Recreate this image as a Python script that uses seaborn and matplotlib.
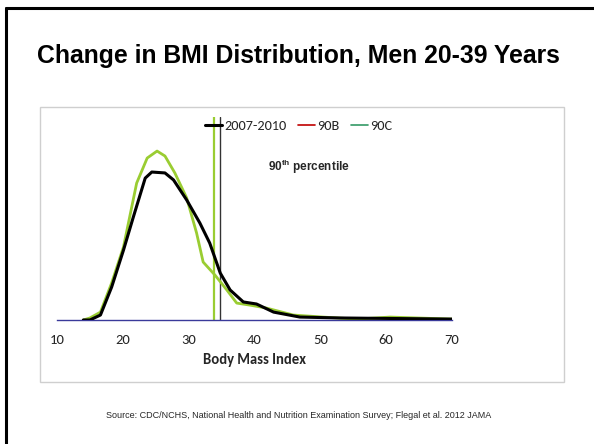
import numpy as np
import pandas as pd
import matplotlib
matplotlib.use("Agg")
import matplotlib.pyplot as plt
import seaborn as sns
from matplotlib import font_manager
from matplotlib.lines import Line2D
from matplotlib.patches import Rectangle

# BMI density curves (density per BMI unit)
bmi_black = [14.0, 15.0, 16.6, 18.3, 20.1, 21.6, 23.4, 24.4, 26.4, 27.7, 29.7,
             31.7, 33.2, 34.8, 36.3, 38.3, 40.3, 42.9, 46.9, 53.0, 70.0]
dens_black = [0.0, 0.0, 0.0022, 0.0146, 0.0310, 0.0457, 0.0629, 0.0656, 0.0652,
              0.0621, 0.0532, 0.0430, 0.0341, 0.0208, 0.0133, 0.0080, 0.0071,
              0.0035, 0.0013, 0.0009, 0.0004]
bmi_green = [14.0, 15.0, 16.6, 18.3, 20.1, 22.1, 23.7, 25.2, 26.4, 27.9, 29.7,
             31.2, 32.2, 34.0, 35.8, 37.3, 39.3, 41.8, 45.9, 50.4, 55.5, 60.6, 70.0]
dens_green = [0.0, 0.0009, 0.0035, 0.0164, 0.0324, 0.0607, 0.0718, 0.0749, 0.0727,
              0.0652, 0.0541, 0.0386, 0.0257, 0.0199, 0.0133, 0.0075, 0.0066,
              0.0053, 0.0022, 0.0013, 0.0004, 0.0013, 0.0004]

# 90th percentile markers
p90_green = 33.9
p90_black = 34.8

legend_labels = ["2007-2010", "90B", "90C"]
xticks = [10, 20, 30, 40, 50, 60, 70]

GREEN = "#9ACD32"


def pick_font(names):
    for n in names:
        try:
            font_manager.findfont(n, fallback_to_default=False)
            return n
        except Exception:
            pass
    return "DejaVu Sans"


narrow = pick_font(["Liberation Sans Narrow", "Liberation Sans"])
arial = pick_font(["Liberation Sans", "DejaVu Sans"])
calibri = pick_font(["Carlito", "Lato", "Open Sans"])

sns.set_style("white")
plt.rcParams["font.family"] = [calibri, "DejaVu Sans"]
plt.rcParams["mathtext.fontset"] = "custom"
plt.rcParams["mathtext.rm"] = narrow
plt.rcParams["mathtext.bf"] = narrow + ":bold"

fig = plt.figure(figsize=(5.94, 4.44), dpi=100)

# slide frame (top + left edge) and chart box
fig.add_artist(Line2D([6 / 594, 1], [1 - 8 / 444, 1 - 8 / 444], color="black", lw=2.2,
                      transform=fig.transFigure))
fig.add_artist(Line2D([6 / 594, 6 / 594], [0, 1 - 8 / 444], color="black", lw=2.2,
                      transform=fig.transFigure))
fig.add_artist(Rectangle((40 / 594, 1 - 382 / 444), (564 - 40) / 594, (382 - 107) / 444,
                         transform=fig.transFigure, fill=False, edgecolor="#cfcfcf", lw=1))

fig.text(0.502, 1 - 56 / 444, "Change in BMI Distribution, Men 20-39 Years",
         ha="center", va="center", fontsize=17.8, fontweight="bold", family=narrow,
         color="black")
fig.text(0.503, 1 - 415 / 444,
         "Source: CDC/NCHS, National Health and Nutrition Examination Survey; Flegal et al. 2012 JAMA",
         ha="center", va="center", fontsize=6.5, family=arial)

ax = fig.add_axes([57 / 594, 1 - 320 / 444, (452 - 57) / 594, (320 - 117) / 444])

df_black = pd.DataFrame({"bmi": bmi_black, "density": dens_black})
df_green = pd.DataFrame({"bmi": bmi_green, "density": dens_green})

sns.lineplot(data=df_green, x="bmi", y="density", color=GREEN, lw=2.0, ax=ax, zorder=3)
sns.lineplot(data=df_black, x="bmi", y="density", color="black", lw=2.2, ax=ax, zorder=4)

ax.axvline(p90_green, ymin=0, ymax=1, color=GREEN, lw=1.6, zorder=2)
ax.axvline(p90_black, ymin=0, ymax=1, color="#333333", lw=1.0, zorder=2)

ax.text(48.3, 0.0678, r"90$^{\mathbf{th}}$ percentile", ha="center", va="center",
        fontsize=8.5, fontweight="bold", family=narrow)

ax.set_xlim(10, 70)
ax.set_ylim(0, 0.09)
ax.set_xticks(xticks)
ax.set_yticks([])
ax.set_xlabel("Body Mass Index", fontsize=10.5, fontweight="bold", labelpad=5)
ax.set_ylabel("")
for s in ["top", "right", "left"]:
    ax.spines[s].set_visible(False)
ax.spines["bottom"].set_color("#3a3a9a")
ax.spines["bottom"].set_linewidth(1.0)
ax.tick_params(axis="x", direction="out", length=5, width=1, color="#3a3a9a",
               labelsize=10.5, pad=5)
ax.patch.set_alpha(0)

handles = [Line2D([], [], color="black", lw=2.2),
           Line2D([], [], color="#c00000", lw=1.2),
           Line2D([], [], color="#339966", lw=1.2)]
fig.legend(handles, legend_labels, loc="center", bbox_to_anchor=(0.503, 1 - 126 / 444),
           ncol=3, frameon=False, fontsize=10.3, handlelength=1.2, handletextpad=0.15,
           columnspacing=0.8)

fig.savefig("out.png", dpi=100)
